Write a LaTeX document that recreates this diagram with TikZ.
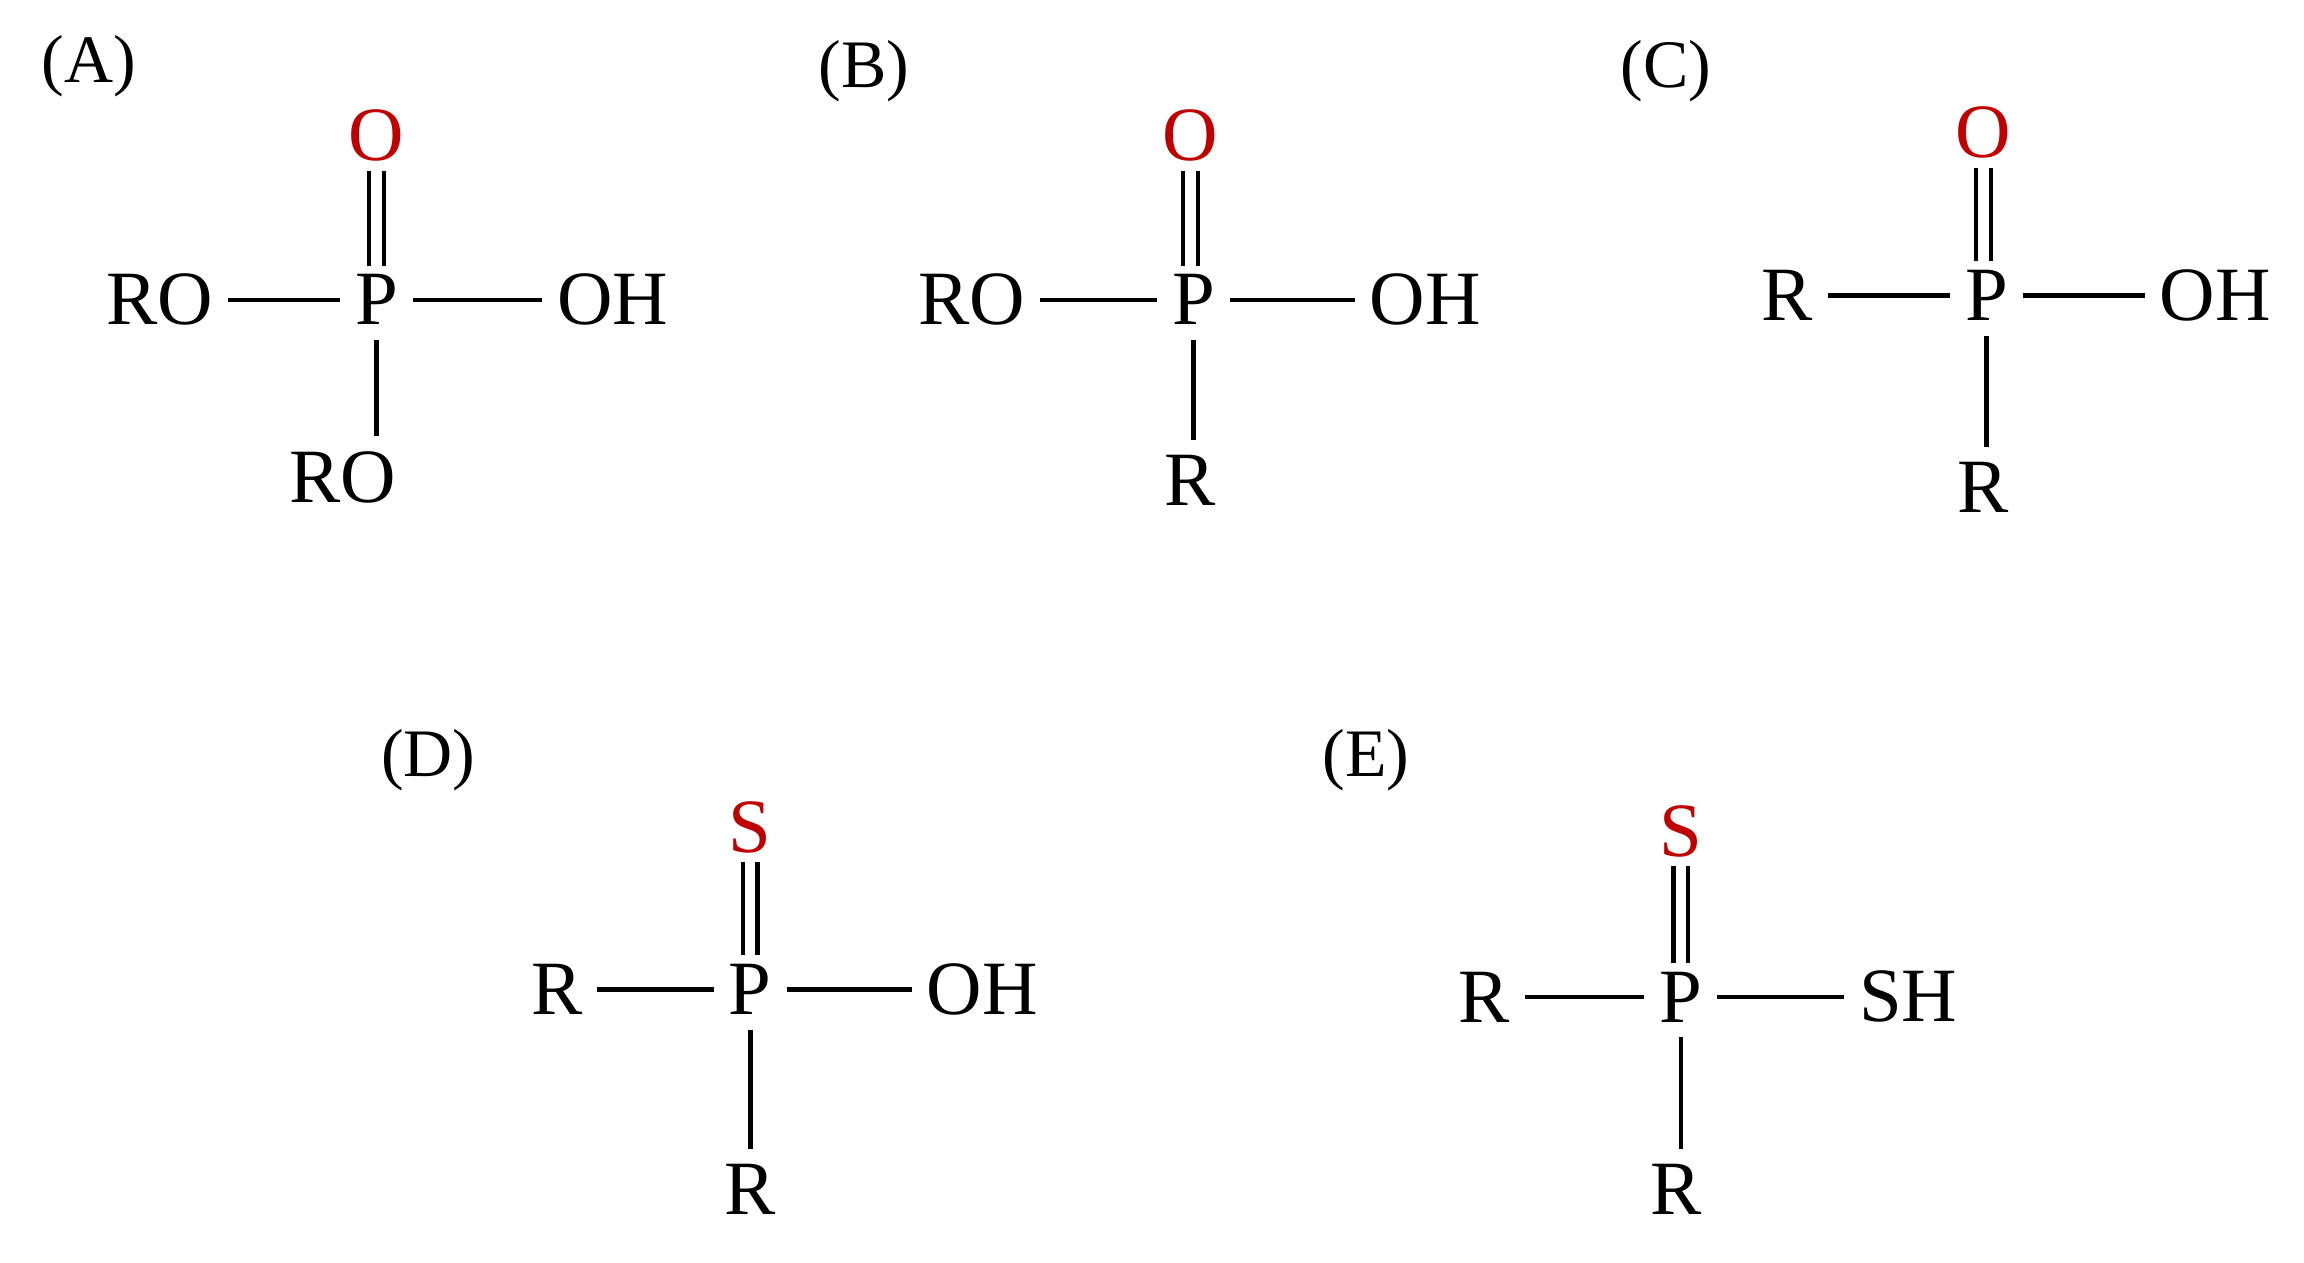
\documentclass[tikz,border=0pt]{standalone}
\usepackage{fontspec}
\setmainfont{Liberation Serif}
\definecolor{ored}{RGB}{192,0,0}
\begin{document}
\begin{tikzpicture}[x=1pt,y=-1pt,
  atom/.style={font=\fontsize{52}{56}\selectfont,inner sep=0pt,anchor=center},
  lab/.style={font=\fontsize{46}{50}\selectfont,inner sep=0pt},
  red/.style={atom,text=ored},
  bond/.style={line width=3pt,shorten >=10pt,shorten <=10pt}]
\useasboundingbox (0,0) rectangle (1560,855);
% A
\node[lab] (la) at (60,45) {(A)};
\node[red] (oa) at (255,92) {O};
\node[atom] (pa) at (255,203) {P};
\node[atom] (ra1) at (108,203) {RO};
\node[atom] (ra2) at (415,203) {OH};
\node[atom] (ra3) at (232,323) {RO};
% B
\node[lab] (lb) at (585,48) {(B)};
\node[red] (ob) at (806,92) {O};
\node[atom] (pb) at (808,203) {P};
\node[atom] (rb1) at (658,203) {RO};
\node[atom] (rb2) at (965,203) {OH};
\node[atom] (rb3) at (806,325) {R};
% C
\node[lab] (lc) at (1128,48) {(C)};
\node[red] (oc) at (1343,90) {O};
\node[atom] (pc) at (1345,200) {P};
\node[atom] (rc1) at (1210,200) {R};
\node[atom] (rc2) at (1500,200) {OH};
\node[atom] (rc3) at (1343,330) {R};
% D
\node[lab] (ld) at (290,515) {(D)};
\node[red] (od) at (508,560) {S};
\node[atom] (pd) at (508,670) {P};
\node[atom] (rd1) at (377,670) {R};
\node[atom] (rd2) at (665,670) {OH};
\node[atom] (rd3) at (508,805) {R};
% E
\node[lab] (le) at (925,515) {(E)};
\node[red] (oe) at (1138,563) {S};
\node[atom] (pe) at (1138,675) {P};
\node[atom] (re1) at (1005,675) {R};
\node[atom] (re2) at (1292,675) {SH};
\node[atom] (re3) at (1135,805) {R};
\foreach \s in {a,b,c,d,e}{
  \draw[bond] (p\s.west) -- (r\s1.east);
  \draw[bond] (p\s.east) -- (r\s2.west);
  \draw[bond] (p\s.south) -- (p\s.south |- r\s3.north);
  \draw[bond,shorten <=6pt,shorten >=6pt] ([xshift=-5pt]o\s.south) -- ([xshift=-5pt]o\s.south |- p\s.north);
  \draw[bond,shorten <=6pt,shorten >=6pt] ([xshift=5pt]o\s.south) -- ([xshift=5pt]o\s.south |- p\s.north);
}
\end{tikzpicture}
\end{document}
